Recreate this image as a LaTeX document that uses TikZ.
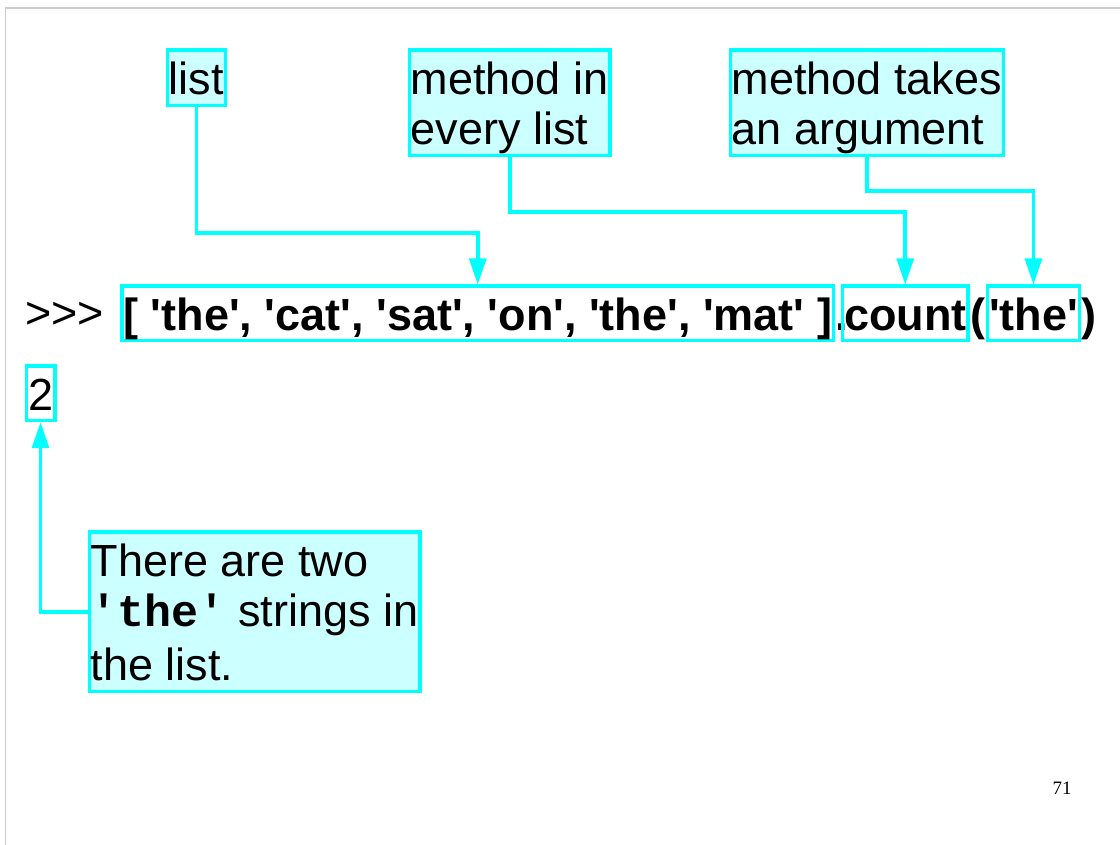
\documentclass[tikz,border=0pt]{standalone}
\usepackage{fontspec}
\usetikzlibrary{arrows.meta,positioning}
\newfontfamily\slidefont{Liberation Sans}
\newfontfamily\codefont{Liberation Mono}
\newfontfamily\numfont{Liberation Serif}
\definecolor{hilite}{HTML}{00FFFF}
\definecolor{notefill}{HTML}{CCFFFF}
\newcommand{\slidesize}{\fontsize{32}{35.5}\selectfont}
\newcommand{\capstrut}{\rule{0pt}{1.1cm}}
\newcommand{\descstrut}{\rule[-0.28cm]{0pt}{0.28cm}}

\begin{document}
\begin{tikzpicture}[x=0.025cm,y=-0.025cm,
   every node/.style={font=\slidefont\slidesize},
   note/.style={draw=hilite,fill=notefill,line width=2.6pt,inner xsep=1.1pt,inner ysep=0pt,anchor=north west,align=left},
   codebox/.style={draw=hilite,line width=2.6pt,inner xsep=1.2pt,inner ysep=0pt,anchor=north west,text height=1.1cm,text depth=0.25cm},
   bold/.style={font=\slidefont\bfseries\slidesize},
   plain/.style={inner sep=0pt,anchor=base west},
   conn/.style={draw=hilite,line width=2.6pt,-{Triangle[length=0.65cm,width=0.42cm]}}]

  \useasboundingbox (0,0) rectangle (1120,845);
  \draw[gray!40,line width=1.2pt] (5.5,845)--(5.5,8)--(1120,8);

  % the line typed at the prompt
  \node[plain] (prompt) at (25,328.5) {>>>};
  \node[codebox,bold] (lst) at (120,284.5) {[ 'the', 'cat', 'sat', 'on', 'the', 'mat' ]};
  \node[plain,bold] (dot) at (lst.base east) {.};
  \node[codebox,bold] (count) at (840.5,284.5) {count};
  \node[plain,bold] (lpar) at (count.base east) {(};
  \node[codebox,bold] (arg) at (985.5,284.5) {'the'};
  \node[plain,bold] (rpar) at (arg.base east) {)};
  \node[codebox] (res) at (24.5,364.5) {2};

  % notes
  \node[note] (list) at (165.5,48.5) {\capstrut list\descstrut};
  \node[note] (every) at (407.5,48.5) {\capstrut method in\\every list\descstrut};
  \node[note] (takes) at (728.5,48.5) {\capstrut method takes\\an argument\descstrut};
  \node[note] (two) at (87.5,530.5) {\capstrut There are two\\{\codefont\bfseries 'the'} strings in\\[3pt]the list.\descstrut};

  \draw[conn] (list.south)--++(0,125.5) -| (lst.north);
  \draw[conn] (every.south)--++(0,55) -| (count.north);
  \draw[conn] (takes.south)--++(0,34) -| (arg.north);
  \draw[conn] (two.west) -| (res.south);

  \node[font=\numfont\fontsize{13.5}{16}\selectfont,anchor=base] (page) at (1062,794) {71};
\end{tikzpicture}
\end{document}
